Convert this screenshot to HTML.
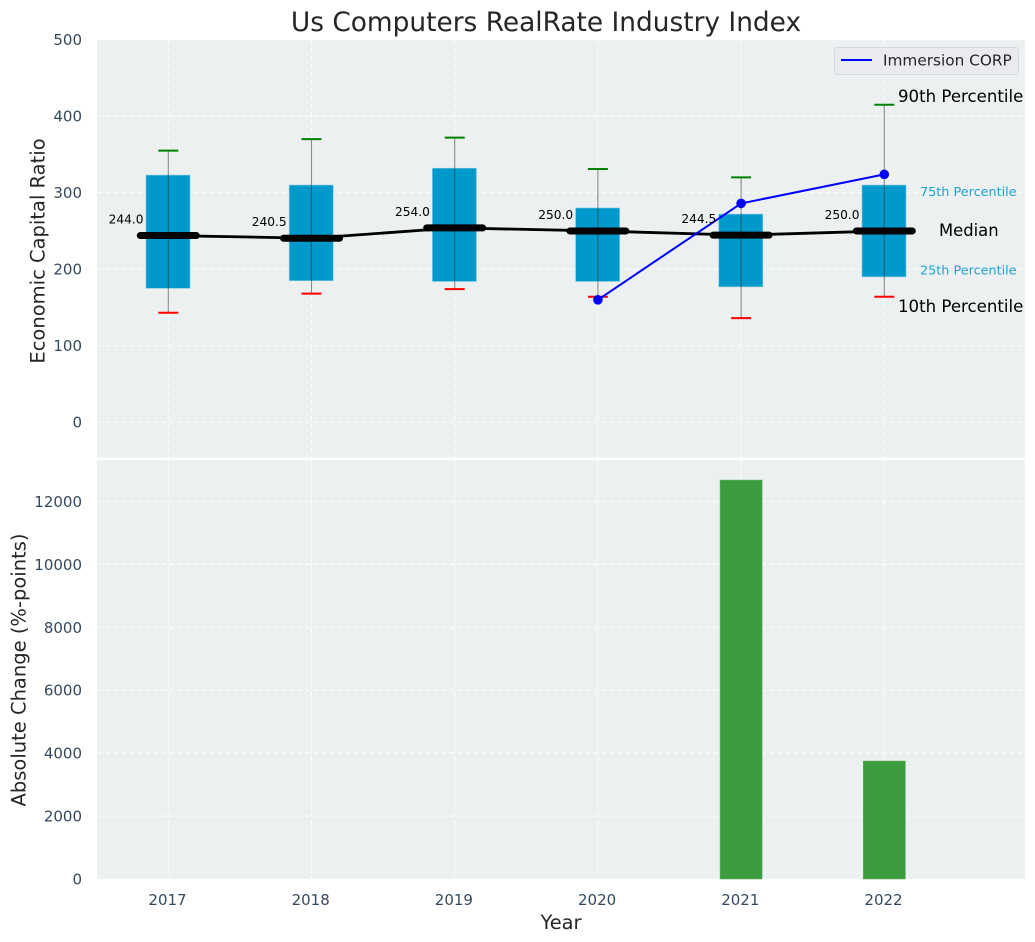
<!DOCTYPE html>
<html>
<head>
<meta charset="utf-8">
<style>
html,body{margin:0;padding:0;background:#fff;}
svg{display:block;font-family:"DejaVu Sans","Liberation Sans",sans-serif;}
</style>
</head>
<body>
<svg id="chart" xmlns="http://www.w3.org/2000/svg" width="1035" height="942" viewBox="0 0 1035 942">
<rect x="0" y="0" width="1035" height="942" fill="#ffffff"/>
<rect x="97" y="40" width="928" height="417.5" fill="#ecf0f1"/>
<rect x="97" y="460" width="928" height="419" fill="#ecf0f1"/>
<text x="546" y="31" font-size="26.4" text-anchor="middle" fill="#262626">Us Computers RealRate Industry Index</text>
<text transform="translate(44.5,251) rotate(-90)" font-size="19.5" text-anchor="middle" fill="#262626">Economic Capital Ratio</text>
<text transform="translate(25.5,670) rotate(-90)" font-size="19.5" text-anchor="middle" fill="#262626">Absolute Change (%-points)</text>
<text x="561" y="929" font-size="19.4" text-anchor="middle" fill="#262626">Year</text>
<g id="grid"></g>
<g id="ticks"></g>
<g id="bars"></g>
<g id="boxes"></g>
<g id="lines"></g>
<g id="annotations"></g>
<g>
<rect x="834.5" y="47.5" width="184" height="27" rx="3" fill="#e9ebf0" stroke="#d6d9dd" stroke-width="1"/>
<line x1="841" y1="60" x2="872" y2="60" stroke="#0000ff" stroke-width="2"/>
<text x="883" y="65.5" font-size="15.3" fill="#262626">Immersion CORP</text>
</g>
<script>
const years = [2017, 2018, 2019, 2020, 2021, 2022];
const p90 = [355, 370, 372, 331, 320, 415];
const q3 = [323, 310, 332, 280, 272, 310];
const medians = [244.0, 240.5, 254.0, 250.0, 244.5, 250.0];
const q1 = [175, 185, 184, 184, 177, 190];
const p10 = [143, 168, 174, 164, 136, 164];
const companyYears = [2020, 2021, 2022];
const companyValues = [160, 286, 324];
const barYears = [2021, 2022];
const barValues = [12680, 3750];
const topTicks = [0, 100, 200, 300, 400, 500];
const bottomTicks = [0, 2000, 4000, 6000, 8000, 10000, 12000];

const NS = 'http://www.w3.org/2000/svg';
function xScale(v){ return 168.3 + (v - 2017) * 143.2; }
function yTop(v){ return 422.2 - v * 0.765; }
function yBottom(v){ return 879 - v * 0.03146; }
function make(parent, tag, attrs, text){
  const el = document.createElementNS(NS, tag);
  for (const k in attrs) el.setAttribute(k, attrs[k]);
  if (text !== undefined) el.textContent = text;
  document.getElementById(parent).appendChild(el);
  return el;
}
const dash = '5 3';
years.forEach(function(y){
  const a = make('grid', 'line', {x1: xScale(y), x2: xScale(y), y1: 40, y2: 457.5, stroke: '#fff', 'stroke-width': 1, 'stroke-dasharray': dash, opacity: 0.9});
  
  
  const b = make('grid', 'line', {x1: xScale(y), x2: xScale(y), y1: 460, y2: 879, stroke: '#fff', 'stroke-width': 1, 'stroke-dasharray': dash, opacity: 0.9});
  
  
  const t = make('ticks', 'text', {x: xScale(y) - 0.8, y: 905, 'font-size': 15, 'text-anchor': 'middle', fill: '#34495e'}, String(y));
  
  
});
topTicks.forEach(function(v){
  const g = make('grid', 'line', {x1: 97, x2: 1025, y1: yTop(v), y2: yTop(v), stroke: '#fff', 'stroke-width': 1, 'stroke-dasharray': dash, opacity: 0.9});
  
  
  const t = make('ticks', 'text', {x: 82, y: yTop(v) + 5.5, 'font-size': 15, 'text-anchor': 'end', fill: '#34495e'}, String(v));
  
  
});
bottomTicks.forEach(function(v){
  const g = make('grid', 'line', {x1: 97, x2: 1025, y1: yBottom(v), y2: yBottom(v), stroke: '#fff', 'stroke-width': 1, 'stroke-dasharray': dash, opacity: 0.9});
  
  
  const t = make('ticks', 'text', {x: 82, y: yBottom(v) + 5.5, 'font-size': 15, 'text-anchor': 'end', fill: '#34495e'}, String(v));
  
  
});
barYears.forEach(function(y, i){
  const b = make('bars', 'rect', {x: xScale(y) - 21, y: yBottom(barValues[i]), width: 42, height: yBottom(0) - yBottom(barValues[i]), fill: '#3b9b3f', stroke: '#5cae60', 'stroke-width': 0.6});
  
  
});
years.forEach(function(y, i){
  const x = xScale(y);
  const box = make('boxes', 'rect', {x: x - 22.3, y: yTop(q3[i]), width: 44, height: yTop(q1[i]) - yTop(q3[i]), fill: '#0099cc', stroke: '#7cc8e0', 'stroke-width': 0.6});
  
  
  const w = make('boxes', 'line', {x1: x, x2: x, y1: yTop(p90[i]), y2: yTop(p10[i]), stroke: '#333', 'stroke-opacity': 0.55, 'stroke-width': 1.1});
  
  
  const hi = make('boxes', 'line', {x1: x - 10, x2: x + 10, y1: yTop(p90[i]), y2: yTop(p90[i]), stroke: '#008000', 'stroke-width': 2});
  
  
  const lo = make('boxes', 'line', {x1: x - 10, x2: x + 10, y1: yTop(p10[i]), y2: yTop(p10[i]), stroke: '#ff0000', 'stroke-width': 2});
  
  
  const lab = make('annotations', 'text', {x: x - 24.8, y: yTop(medians[i]) - 12, 'font-size': 12.2, 'text-anchor': 'end', fill: '#000'}, medians[i].toFixed(1));
  
  
});
const medianLine = make('lines', 'polyline', {points: years.map(function(y, i){ return xScale(y) + ',' + yTop(medians[i]); }).join(' '), fill: 'none', stroke: '#000', 'stroke-width': 2.8});


years.forEach(function(y, i){
  const m = make('lines', 'line', {x1: xScale(y) - 28, x2: xScale(y) + 28, y1: yTop(medians[i]), y2: yTop(medians[i]), stroke: '#000', 'stroke-width': 7, 'stroke-linecap': 'round'});
  
  
});
const companyLine = make('lines', 'polyline', {points: companyYears.map(function(y, i){ return xScale(y) + ',' + yTop(companyValues[i]); }).join(' '), fill: 'none', stroke: '#0000ff', 'stroke-width': 2});


companyYears.forEach(function(y, i){
  const c = make('lines', 'circle', {cx: xScale(y), cy: yTop(companyValues[i]), r: 4.8, fill: '#0000ff'});
  
  
});
const last = years.length - 1;
const lastX = xScale(years[last]);
const a90 = make('annotations', 'text', {x: lastX + 13.7, y: yTop(p90[last]) - 2.5, 'font-size': 16.6, fill: '#000'}, '90th Percentile');


const a75 = make('annotations', 'text', {x: lastX + 35.7, y: yTop(q3[last]) + 11, 'font-size': 12.8, fill: '#1aa3d1'}, '75th Percentile');


const a50 = make('annotations', 'text', {x: lastX + 54.7, y: yTop(medians[last]) + 4.8, 'font-size': 16.4, fill: '#000'}, 'Median');


const a25 = make('annotations', 'text', {x: lastX + 35.7, y: yTop(q1[last]) - 2.5, 'font-size': 12.8, fill: '#1aa3d1'}, '25th Percentile');


const a10 = make('annotations', 'text', {x: lastX + 13.7, y: yTop(p10[last]) + 15.5, 'font-size': 16.6, fill: '#000'}, '10th Percentile');


</script>
</svg>
</body>
</html>
